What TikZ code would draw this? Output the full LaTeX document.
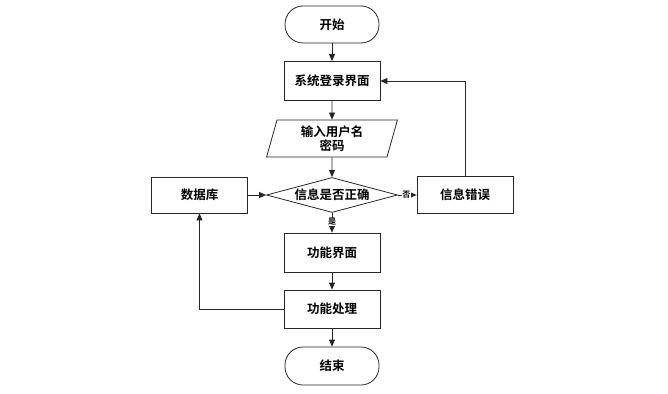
\documentclass[tikz,border=0pt]{standalone}
\usepackage{fontspec}
\newfontfamily\cjk{Noto Sans CJK SC Bold}
\usetikzlibrary{shapes.geometric,arrows.meta}
\begin{document}
\begin{tikzpicture}[x=1pt,y=-1pt,
  every node/.style={font=\cjk\fontsize{12.5}{15}\selectfont},
  box/.style={draw=black!85,line width=0.8pt,minimum width=96pt,minimum height=39pt,inner sep=0pt},
  term/.style={box,rounded corners=18pt,minimum width=94pt,minimum height=37pt},
  io/.style={draw=black!85,line width=0.8pt,trapezium,trapezium left angle=68,trapezium right angle=112,minimum width=124pt,minimum height=37pt,inner sep=0pt,align=center,trapezium stretches=true},
  dec/.style={draw=black!85,line width=0.8pt,diamond,minimum width=131pt,minimum height=35pt,inner sep=0pt,aspect=3.7},
  arr/.style={draw=black!85,line width=0.8pt,-{Triangle[length=7pt,width=6pt]}},
  lbl/.style={font=\cjk\fontsize{8}{9}\selectfont,fill=white,inner sep=0.5pt}
]
\useasboundingbox (0,0) rectangle (668,393);
\node[term] (start) at (332,24.5) {开始};
\node[box] (login) at (332,81) {系统登录界面};
\node[io,text width=110pt] (input) at (332,138.5) {输入用户名\\[-1pt]密码};
\node[dec] (check) at (332,195) {信息是否正确};
\node[box,minimum height=37pt] (err) at (465,195) {信息错误};
\node[box,minimum height=36pt] (db) at (199.5,195) {数据库};
\node[box] (func) at (332,252.5) {功能界面};
\node[box,minimum height=38pt] (proc) at (332,309) {功能处理};
\node[term,minimum height=38pt] (end) at (332,366) {结束};

\draw[arr] (start) -- (login);
\draw[arr] (login) -- (input);
\draw[arr] (input) -- (check);
\draw[arr] (check) -- node[lbl,pos=0.45]{否} (err);
\draw[arr] (check) -- node[lbl,pos=0.45]{是} (func);
\draw[arr] (db) -- (check);
\draw[arr] (func) -- (proc);
\draw[arr] (proc) -- (end);
\draw[arr] (proc.west) -| (db.south);
\draw[arr] (err.north) |- (login.east);
\end{tikzpicture}
\end{document}
